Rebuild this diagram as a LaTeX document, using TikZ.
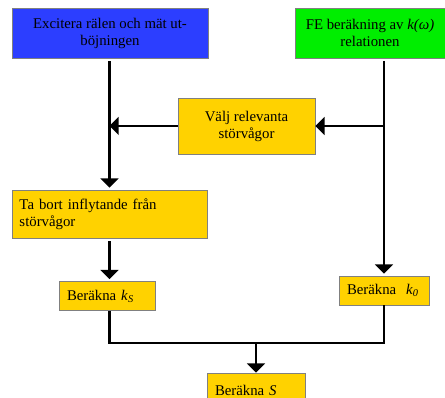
\documentclass[tikz,border=0pt]{standalone}
\usepackage{fontspec}
\setmainfont{Liberation Serif}
\usetikzlibrary{calc}
\usetikzlibrary{arrows}

\definecolor{exblue}{RGB}{44,62,255}
\definecolor{fegreen}{RGB}{0,238,0}
\definecolor{stepyellow}{RGB}{255,210,0}

\tikzset{
  box/.style={draw=gray, line width=0.8pt, align=center, inner sep=0pt,
    font=\fontsize{14.8}{17}\selectfont},
  flow/.style={line width=2.3pt, -triangle 90},
}

\begin{document}
\begin{tikzpicture}[x=1pt,y=-1pt]
    \path[use as bounding box] (0,0) rectangle (445,398);
    \clip (0,0) rectangle (445,398);
    % Start boxes.
    \node[box, fill=exblue, minimum width=196pt, minimum height=50pt] (exc) at (110,33)
      {Excitera rälen och mät ut-\\böjningen};
    \node[box, fill=fegreen, minimum width=150pt, minimum height=50pt] (fe) at (370,33)
      {FE beräkning av \textit{k(ω)}\\relationen};
    % Middle steps.
    \node[box, fill=stepyellow, minimum width=137pt, minimum height=56pt] (valj) at (246.5,126)
      {Välj relevanta\\störvågor};
    \node[box, fill=stepyellow, minimum width=195pt, minimum height=48pt,
      align=left, text width=180pt] (tabort) at (109.5,214)
      {Ta bort inflytande från\\störvågor};
    \node[box, fill=stepyellow, minimum width=96pt, minimum height=29pt,
      align=left, text width=80pt] (ks) at (107,296)
      {Beräkna \textit{k}\textsubscript{\textit{S}}};
    \node[box, fill=stepyellow, minimum width=90pt, minimum height=29pt,
      align=left, text width=74pt] (k0) at (384,290.5)
      {Beräkna\ \ \textit{k}\textsubscript{\textit{0}}};
    \node[box, fill=stepyellow, minimum width=98pt, minimum height=34pt,
      align=left, text width=82pt] (s) at (256,390)
      {Beräkna \textit{S}};
    \coordinate (feout) at (384,61);
    \coordinate (join) at (256,343);
    % Connectors.
    \draw[flow, shorten >=2pt] (exc.south -| tabort.north) ++(0,3) -- (tabort.north);
    \draw[flow, shorten >=2pt] (feout) -- (k0.north);
    \draw[flow] (feout |- valj.east) -- (valj.east);
    \draw[flow] (valj.west) -- (valj.west -| tabort.north);
    \draw[flow, shorten >=2pt] ($(tabort.south)+(0,3)$) -- (ks.north -| tabort.south);
    \draw[line width=2.3pt] (ks.south -| tabort.south) |- (join) -| (k0.south);
    \draw[flow] (join) -- (s.north);
  \end{tikzpicture}
\end{document}
